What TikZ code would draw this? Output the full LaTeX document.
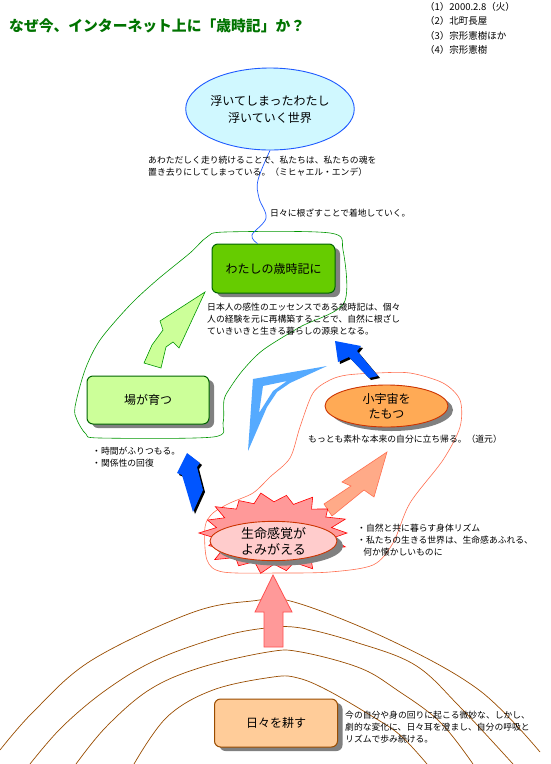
\documentclass[tikz,border=0pt]{standalone}
\usepackage{fontspec}
\setmainfont{Noto Sans CJK JP}
\usetikzlibrary{shapes.geometric,shadows,calc}
\definecolor{titlegreen}{RGB}{0,115,0}
\definecolor{skyline}{RGB}{30,90,255}
\definecolor{skyfill}{RGB}{208,248,255}
\definecolor{leafgreen}{RGB}{102,204,0}
\definecolor{palegreen}{RGB}{204,255,153}
\definecolor{darkgreen}{RGB}{0,100,0}
\definecolor{loopgreen}{RGB}{0,150,0}
\definecolor{arrowblue}{RGB}{0,85,255}
\definecolor{kiteblue}{RGB}{85,170,255}
\definecolor{orangefill}{RGB}{255,170,85}
\definecolor{orangeline}{RGB}{204,51,0}
\definecolor{salmonline}{RGB}{255,110,80}
\definecolor{salmonfill}{RGB}{255,170,136}
\definecolor{burstfill}{RGB}{255,153,153}
\definecolor{burstline}{RGB}{255,0,0}
\definecolor{rosefill}{RGB}{255,204,204}
\definecolor{pinkline}{RGB}{255,80,80}
\definecolor{earth}{RGB}{153,76,0}
\definecolor{peach}{RGB}{255,204,153}
\definecolor{shadowgray}{RGB}{128,128,128}
\begin{document}
\begin{tikzpicture}[x=1pt,y=-1pt,
  note/.style={anchor=west,align=left,inner sep=0,font=\fontsize{8.8}{12}\selectfont},
  shade box/.style={drop shadow={shadow xshift=5pt,shadow yshift=-4pt,fill=shadowgray,opacity=1}},
  card/.style={rounded corners=6pt,line width=1pt,inner sep=0,minimum width=122pt,minimum height=48pt,font=\fontsize{12}{14}\selectfont,shade box},
  oval/.style={ellipse,inner sep=0,align=center,line width=0.9pt},
  contour/.style={earth,line width=0.7pt}]
  \useasboundingbox (0,0) rectangle (550,764);
  \draw[contour] plot[smooth,tension=0.6] coordinates {(0,750) (35,710) (92,660) (191,613) (252,601) (294,602) (390,640) (479,690) (540,752)};
  \draw[contour] plot[smooth,tension=0.6] coordinates {(30,764) (62,727) (106,690) (156,660) (220,637) (266,628) (301,628) (355,642) (415,665) (460,707) (513,764)};
  \draw[contour] plot[smooth,tension=0.6] coordinates {(76,764) (106,727) (149,690) (199,668) (268,652) (301,652) (360,668) (397,690) (440,722) (473,764)};
  \draw[contour] plot[smooth,tension=0.6] coordinates {(134,764) (167,717) (213,690) (273,677) (298,678) (327,690) (370,715) (400,735) (427,764)};
  \draw[pinkline,fill=burstfill,line width=0.8pt] (273,575) -- (292,612) -- (283,612) -- (283,647) -- (264,647) -- (264,612) -- (255,612) -- cycle;
  \draw[loopgreen,line width=0.6pt] plot[smooth cycle,tension=0.5] coordinates {(225,232) (330,233) (343,250) (344,303) (300,327) (263,350) (243,370) (230,388) (224,400) (223,423) (213,437) (100,438) (86,434) (77,420) (75,407) (85,370) (100,340) (130,305) (157,280) (190,253) (207,237)};
  \draw[salmonline,line width=0.6pt] plot[smooth cycle,tension=0.5] coordinates {(290,458) (300,427) (313,393) (330,380) (347,375) (377,373) (410,373) (443,383) (460,400) (460,427) (443,460) (410,503) (393,543) (373,565) (330,572) (280,573) (223,572) (207,560) (205,527) (213,513) (230,503) (253,493) (270,477)};
  \node[oval,draw=skyline,fill=skyfill,minimum width=136pt,minimum height=82pt,font=\fontsize{12}{17}\selectfont] (float) at (270,109) {浮いてしまったわたし\\浮いていく世界};
  \node[card,fill=leafgreen,draw=darkgreen,minimum width=123pt,minimum height=49pt] (koyomi) at (273.5,268.5) {わたしの歳時記に};
  \node[card,fill=palegreen,draw=darkgreen] (ba) at (148,400) {場が育つ};
  \node[card,fill=peach,draw=earth,minimum width=123pt] (tagayasu) at (276,723) {日々を耕す};
  \draw[skyline,line width=0.7pt] plot[smooth,tension=0.6] coordinates {(float.south) (258,180) (259,198) (266,218) (252,235) ([xshift=-16pt]koyomi.north)};
  \draw[loopgreen,fill=palegreen,line width=0.6pt] (144,363) -- (152,345) -- (163,330) -- (160,321) -- (205,292) -- (179,348) -- (173,342) -- (166,347) -- (161,368) -- cycle;
  \fill[kiteblue,even odd rule] (327,366) -- (253,379) -- (248,451) -- (267,407) -- (277,392) -- (290,383) -- cycle (263,386) -- (287,381) -- (273,391) -- (259,413) -- cycle;
  \foreach \d/\col in {2/black,0/arrowblue} {
    \fill[\col,shift={(\d,\d)}] (187,453) -- (200,463) -- (197,467) -- (203,490) -- (193,512) -- (185,485) -- (182,475) -- (177,473) -- cycle;
    \fill[\col,shift={(\d,\d)}] (335,341) -- (361,346) -- (357,351) -- (378,376) -- (369,378) -- (349,357) -- (338,362) -- cycle;
  }
  \node[oval,fill=orangefill,draw=orangeline,shade box,minimum width=123pt,minimum height=42pt,font=\fontsize{12}{15}\selectfont] (uchu) at (386.5,406) {小宇宙を\\たもつ};
  \draw[salmonline,fill=salmonfill,line width=0.6pt] (387,452) -- (374,497) -- (364,490) -- (332,516) -- (324,504) -- (351,486) -- (342,482) -- cycle;
  \coordinate (burst) at (274,533);
  \draw[burstline,fill=burstfill,line width=0.6pt] ($(burst)+(73,0)$) \foreach \a/\f in {10/.8,20/1.04,30/.8,40/.96,50/.78,60/1.06,70/.8,80/.98,90/.8,100/1.05,110/.78,120/.97,130/.82,140/1.06,150/.8,160/.95,170/.8,180/1.03,190/.8,200/.97,210/.78,220/1.05,230/.8,240/.96,250/.8,260/1.04,270/.8,280/.98,290/.78,300/1.06,310/.8,320/.96,330/.82,340/1.04,350/.8} { -- ($(burst)+({73*\f*cos(\a)},{39*\f*sin(\a)})$) } -- cycle;
  \node[oval,fill=rosefill,draw=orangeline,drop shadow={shadow xshift=6pt,shadow yshift=-5pt,fill=shadowgray,opacity=1},minimum width=127pt,minimum height=38pt,font=\fontsize{13}{16}\selectfont] (seimei) at (273.5,541) {生命感覚が\\よみがえる};
  \node[anchor=west,inner sep=0,font=\fontsize{14.8}{16}\selectfont\bfseries,text=titlegreen] (title) at (9,26) {なぜ今、インターネット上に「歳時記」か？};
  \node[note,font=\fontsize{9.5}{14.3}\selectfont] (meta) at (425,28.5) {（1）2000.2.8（火）\\（2）北町長屋\\（3）宗形憲樹ほか\\（4）宗形憲樹};
  \node[note] (ende) at (148,166.5) {あわただしく走り続けることで、私たちは、私たちの魂を\\置き去りにしてしまっている。（ミヒャエル・エンデ）};
  \node[note] (chakuchi) at (270,213) {日々に根ざすことで着地していく。};
  \node[note] (essence) at (207,319) {日本人の感性のエッセンスである歳時記は、個々\\人の経験を元に再構築することで、自然に根ざし\\ていきいきと生きる暮らしの源泉となる。};
  \node[note] (jikan) at (92,457) {・時間がふりつもる。\\・関係性の回復};
  \node[note] (dogen) at (308,439) {もっとも素朴な本来の自分に立ち帰る。（道元）};
  \node[note] (rhythm) at (357,540) {・自然と共に暮らす身体リズム\\・私たちの生きる世界は、生命感あふれる、\\\hspace{0.7em}何か懐かしいものに};
  \node[note] (bidou) at (345,727) {今の自分や身の回りに起こる微妙な、しかし、\\劇的な変化に、日々耳を澄まし、自分の呼吸と\\リズムで歩み続ける。};
\end{tikzpicture}
\end{document}
